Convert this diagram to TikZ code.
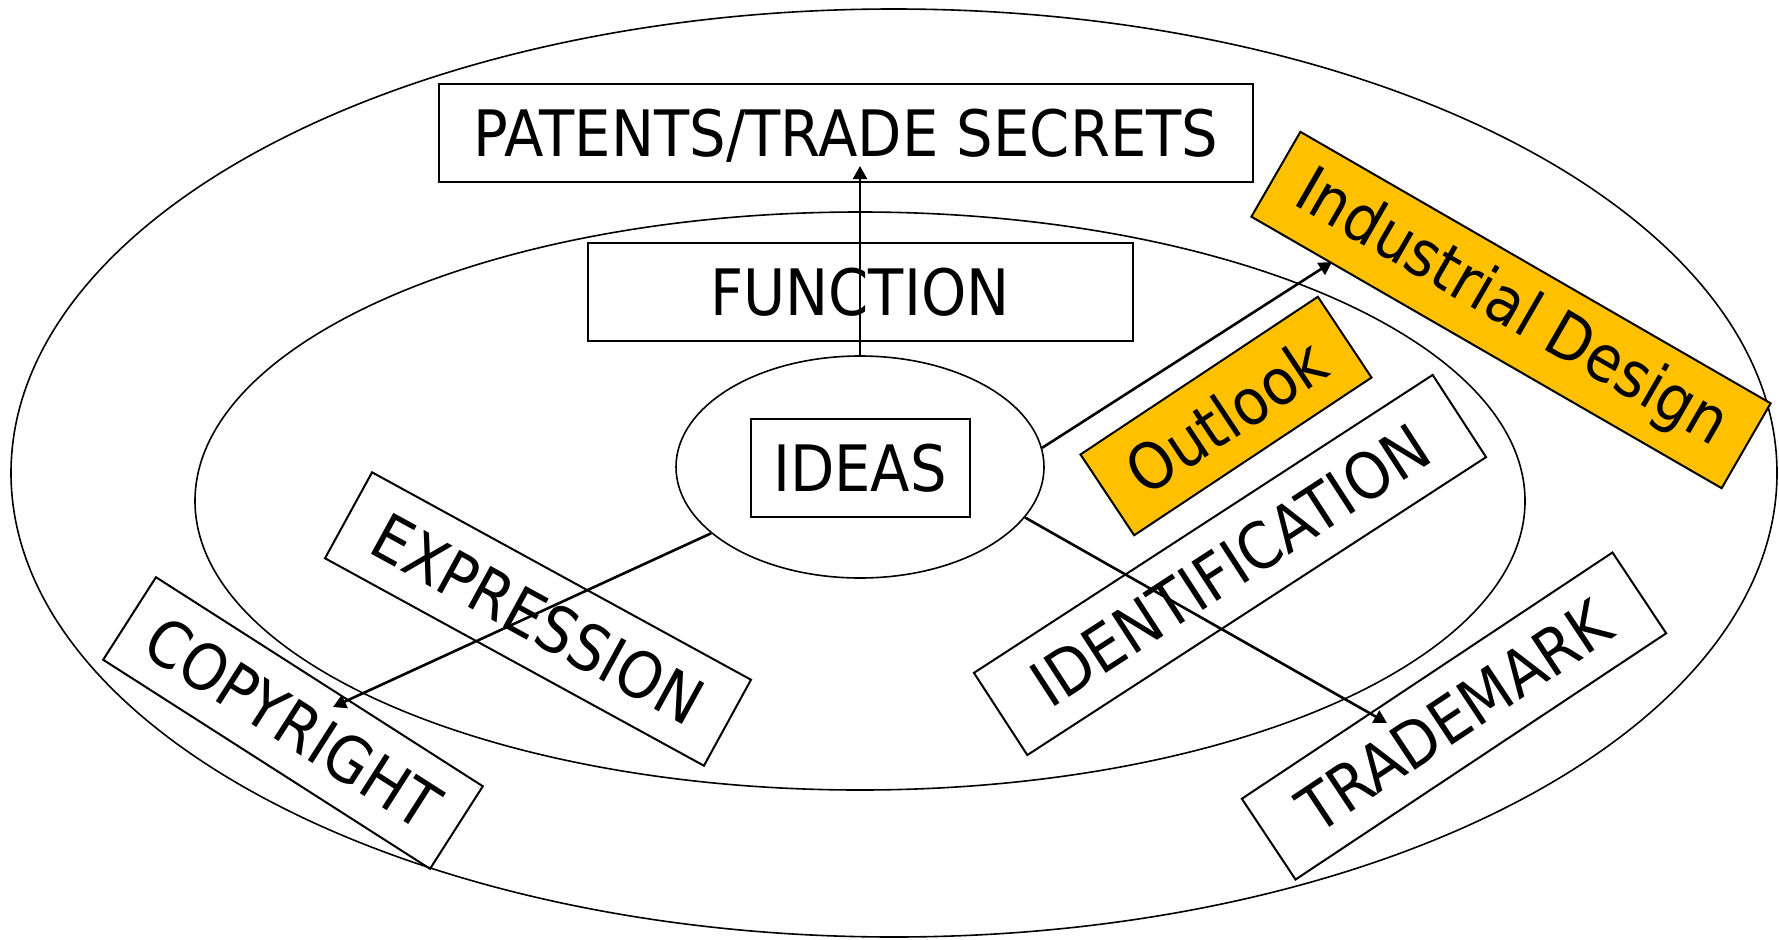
\documentclass[tikz,border=0pt]{standalone}
\usepackage{fontspec}
\usepackage{tikz}
\usetikzlibrary{arrows.meta, shapes.geometric, positioning, calc}
\newfontfamily\labelfont{DejaVu Sans}[FakeStretch=0.9]
\definecolor{gold}{RGB}{255,192,0}
\tikzset{
    ring/.style={draw, ellipse, line width=1.6pt, inner sep=0pt},
    labelbox/.style={draw, rectangle, line width=2pt, inner sep=0pt,
        font=\labelfont\fontsize{64}{70}\selectfont},
    capsbox/.style={labelbox, text height=47pt, text depth=0pt},
    goldbox/.style={labelbox, fill=gold},
    link/.style={line width=2.6pt, -{Triangle[length=13pt,width=14pt]}}
}

\begin{document}
\begin{tikzpicture}[x=1pt, y=-1pt]
    \useasboundingbox (0,0) rectangle (1779,939);
    % the three rings
    \node[ring, minimum width=1766pt, minimum height=928pt] (outer) at (894,473) {};
    \node[ring, minimum width=1330pt, minimum height=578pt] (middle) at (860,501) {};
    \node[ring, minimum width=368pt, minimum height=222pt] (ideasring) at (860,467) {};
    % straight boxes
    \node[capsbox, minimum width=814pt, minimum height=98pt] (patents) at (846,133) {PATENTS/TRADE SECRETS};
    \node[capsbox, minimum width=545pt, minimum height=98pt] (function) at (860,292) {FUNCTION};
    \node[capsbox, minimum width=219pt, minimum height=98pt] (ideas) at (860,468) {IDEAS};
    % tilted boxes
    \node[goldbox, rotate=-30, minimum width=543pt, minimum height=98pt] (design) at (1511,310) {Industrial Design};
    \node[goldbox, rotate=33.6, minimum width=285pt, minimum height=97pt] (outlook) at (1226,416) {Outlook};
    \node[capsbox, rotate=33, minimum width=547pt, minimum height=98pt] (identification) at (1230,565) {IDENTIFICATION};
    \node[capsbox, rotate=33.6, minimum width=445pt, minimum height=97pt] (trademark) at (1454,716) {TRADEMARK};
    \node[capsbox, rotate=-28.7, minimum width=432pt, minimum height=98pt] (expression) at (538,619) {EXPRESSION};
    \node[capsbox, rotate=-32.6, minimum width=388pt, minimum height=98pt] (copyright) at (293,723) {COPYRIGHT};
    % arrow ends
    \coordinate (patentsTip) at (860,166);
    \coordinate (designTip) at (1332,262);
    \coordinate (markTip) at (1387,723);
    \coordinate (copyTip) at (333,707);
    \draw[link] (ideasring.90) -- (patentsTip);
    \draw[link] (ideasring.6) -- (designTip);
    \draw[link] (ideasring.-17) -- (markTip);
    \draw[link] (ideasring.204) -- (copyTip);
\end{tikzpicture}
\end{document}
